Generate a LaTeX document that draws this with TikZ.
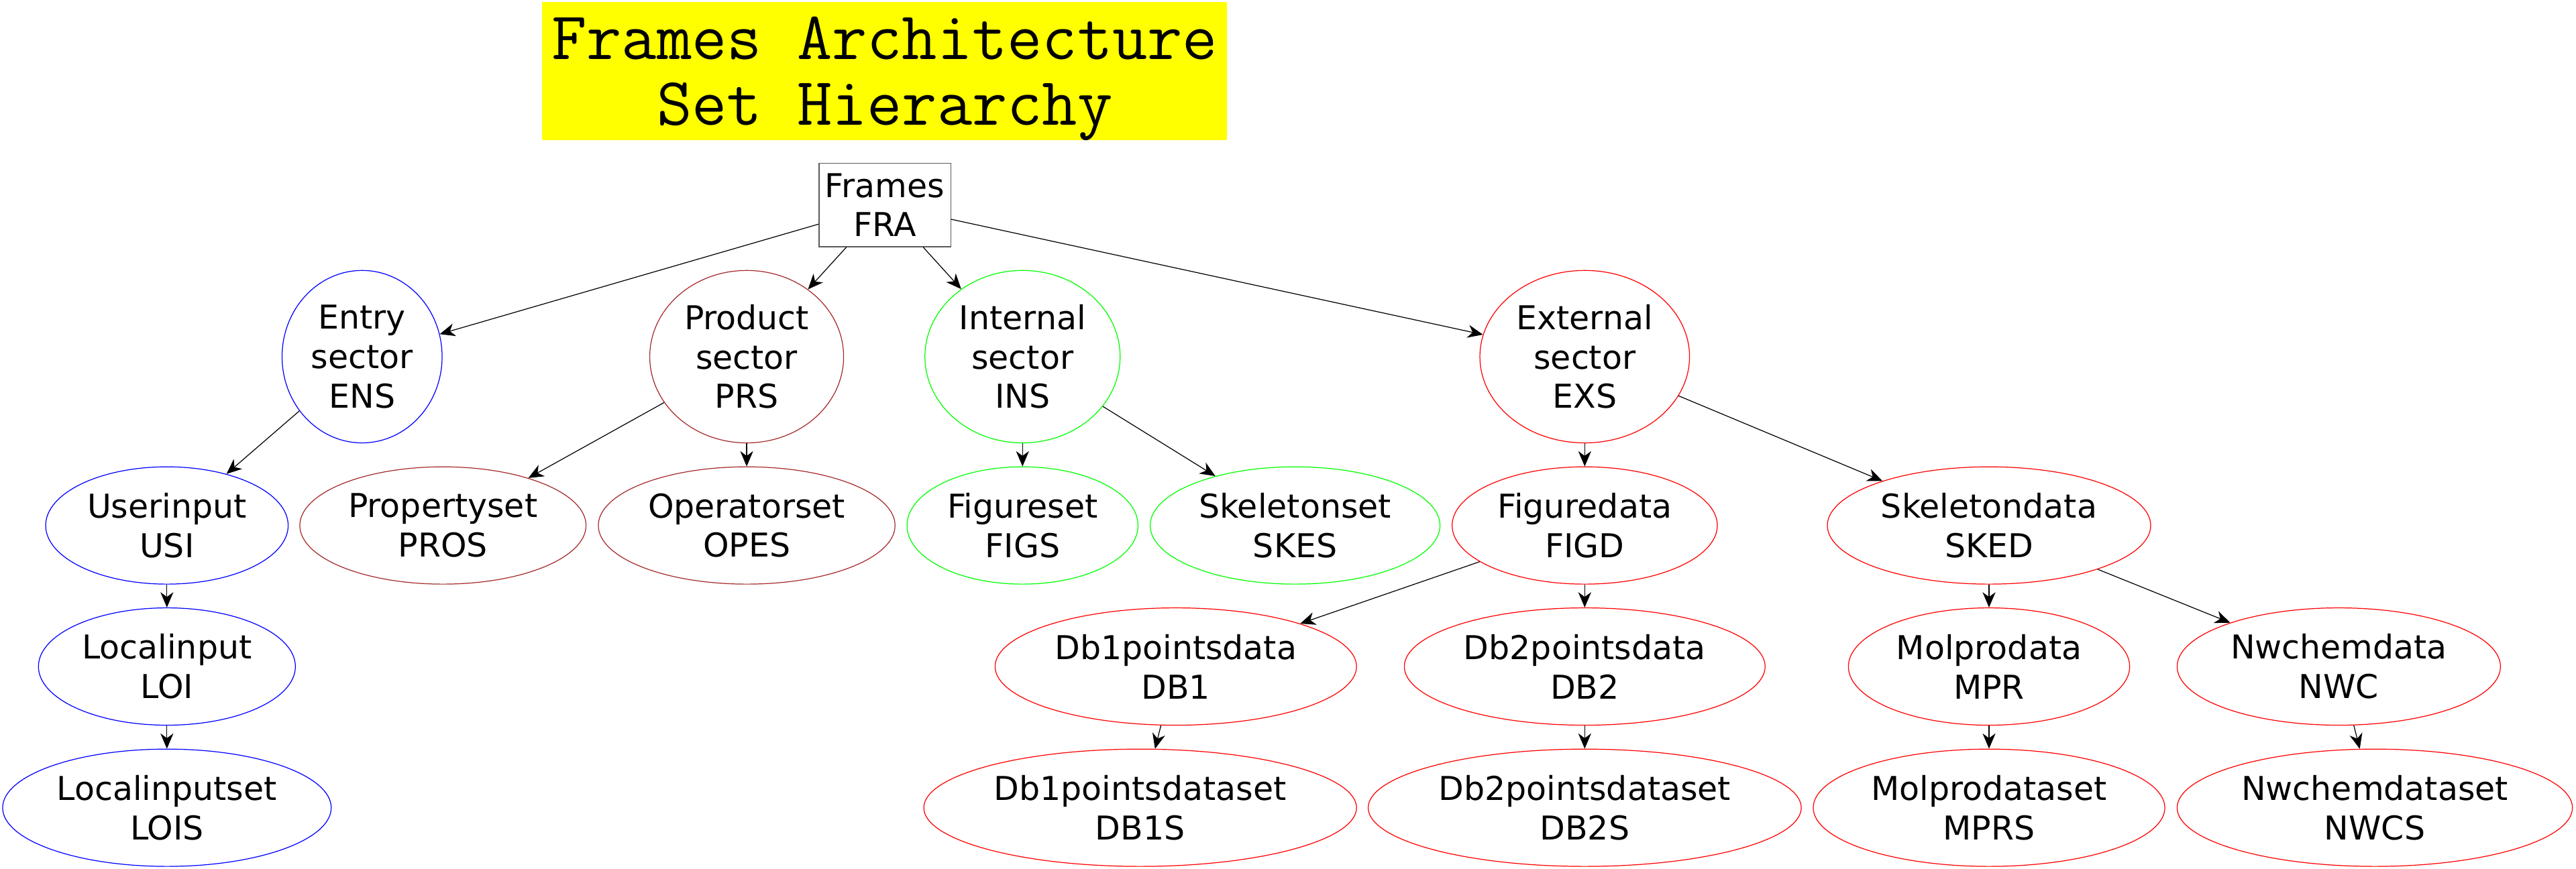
\documentclass[tikz,border=0pt]{standalone}
\usepackage{fontspec}
\setmainfont{DejaVu Sans}
\usepackage{tikz}
\usetikzlibrary{arrows.meta,shapes.geometric,positioning}
\definecolor{gvbrown}{HTML}{A52A2A}
\definecolor{gvgreen}{HTML}{00FF00}
\definecolor{gvyellow}{HTML}{FFFF00}
\tikzset{>={Stealth[length=6.5pt,width=5.5pt,inset=2pt]}}
\tikzset{
  lab/.style={align=center, inner sep=0pt, font=\fontsize{14}{16.8}\selectfont},
  sect/.style 2 args={lab, ellipse, draw=#1, line width=0.35pt, minimum width=#2*1.4pt, minimum height=73.5pt},
  sset/.style 2 args={lab, ellipse, draw=#1, line width=0.35pt, minimum width=#2*1.4pt, minimum height=50pt},
  ttl/.style={anchor=base, inner sep=0pt, font=\ttfamily\fontsize{29}{28}\selectfont},
  edge/.style={->, line width=0.35pt}
}

\begin{document}
\begin{tikzpicture}[x=0.7pt,y=-0.7pt]
    \useasboundingbox (0,0) rectangle (1568,529.2);

    % title
    \fill[gvyellow] (330,1.4) rectangle (747,85.3);
    \node[ttl] (title1) at (538.5,36) {Frames Architecture};
    \node[ttl] (title2) at (538.5,76) {Set Hierarchy};

    % root
    \node[lab, draw=black!65, line width=0.35pt, minimum width=56.1pt, minimum height=35.7pt] (fra) at (538.6,124.8) {Frames\\FRA};

    % sectors
    \node[sect={blue}{48.7}]     (ens) at (220.4,217.2) {Entry\\sector\\ENS};
    \node[sect={gvbrown}{59}]    (prs) at (454.5,217.2) {Product\\sector\\PRS};
    \node[sect={gvgreen}{59.4}]  (ins) at (622.4,217.2) {Internal\\sector\\INS};
    \node[sect={red}{63.8}]      (exs) at (964.6,217.2) {External\\sector\\EXS};

    % second row
    \node[sset={blue}{73.8}]     (usi)  at (101.6,320) {Userinput\\USI};
    \node[sset={gvbrown}{87.1}]  (pros) at (269.6,320) {Propertyset\\PROS};
    \node[sset={gvbrown}{90.3}]  (opes) at (454.5,320) {Operatorset\\OPES};
    \node[sset={gvgreen}{70.3}]  (figs) at (622.4,320) {Figureset\\FIGS};
    \node[sset={gvgreen}{88.2}]  (skes) at (788.3,320) {Skeletonset\\SKES};
    \node[sset={red}{80.7}]      (figd) at (964.6,320) {Figuredata\\FIGD};
    \node[sset={red}{98.4}]      (sked) at (1210.7,320) {Skeletondata\\SKED};

    % third row
    \node[sset={blue}{78.2}]     (loi) at (101.6,405.9) {Localinput\\LOI};
    \node[sset={red}{110}]       (db1) at (715.7,405.9) {Db1pointsdata\\DB1};
    \node[sset={red}{109.8}]     (db2) at (964.6,405.9) {Db2pointsdata\\DB2};
    \node[sset={red}{85.6}]      (mpr) at (1210.7,405.9) {Molprodata\\MPR};
    \node[sset={red}{98.4}]      (nwc) at (1423.6,405.9) {Nwchemdata\\NWC};

    % fourth row
    \node[sset={blue}{100}]      (lois) at (101.6,491.9) {Localinputset\\LOIS};
    \node[sset={red}{131.7}]     (db1s) at (694,491.9) {Db1pointsdataset\\DB1S};
    \node[sset={red}{131.8}]     (db2s) at (964.6,491.9) {Db2pointsdataset\\DB2S};
    \node[sset={red}{107}]       (mprs) at (1210.7,491.9) {Molprodataset\\MPRS};
    \node[sset={red}{120.3}]     (nwcs) at (1445.5,491.9) {Nwchemdataset\\NWCS};

    % edges
    \foreach \a/\b in {fra/ens, fra/prs, fra/ins, fra/exs,
                       ens/usi, prs/pros, prs/opes, ins/figs, ins/skes, exs/figd, exs/sked,
                       usi/loi, figd/db1, figd/db2, sked/mpr, sked/nwc,
                       loi/lois, db1/db1s, db2/db2s, mpr/mprs, nwc/nwcs}
        \draw[edge] (\a) -- (\b);
\end{tikzpicture}
\end{document}
